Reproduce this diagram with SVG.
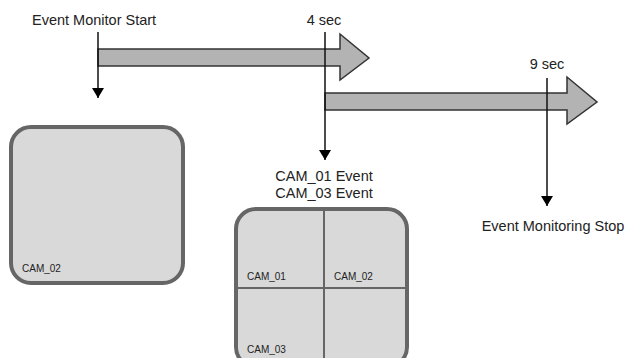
<svg xmlns="http://www.w3.org/2000/svg" width="625" height="358" viewBox="0 0 625 358">
<style>
.t{font-family:"Liberation Sans",Arial,sans-serif;font-size:14.5px;fill:#222}
.s{font-family:"Liberation Sans",Arial,sans-serif;font-size:10px;fill:#222}
.arr{fill:#b3b3b3;stroke:#333;stroke-width:1.5;stroke-linejoin:miter}
.box{fill:#d9d9d9;stroke:#666;stroke-width:4}
.div{stroke:#666;stroke-width:2;fill:none}
.ln{stroke:#111;stroke-width:1.5;fill:none}
</style>
<defs>
<marker id="ah" markerWidth="10" markerHeight="12" refX="10" refY="6" orient="auto" markerUnits="userSpaceOnUse" viewBox="0 0 10 12">
<path d="M0,0 L10,6 L0,12 Z" fill="#000"/>
</marker>
</defs>
<g id="arrow1">
<path class="arr" d="M98,49 L340,49 L340,34 L369,58 L340,80 L340,66 L98,66 Z"/>
</g>
<g id="arrow2">
<path class="arr" d="M325,93 L567,93 L567,77 L597,102 L567,124 L567,110 L325,110 Z"/>
</g>
<g id="box1">
<rect class="box" x="11" y="127" width="172" height="156" rx="20"/>
<text class="s" x="22" y="272">CAM_02</text>
</g>
<g id="box2">
<rect class="box" x="236" y="209" width="171" height="158" rx="20"/>
<line class="div" x1="324" y1="211" x2="324" y2="365"/>
<line class="div" x1="238" y1="288" x2="405" y2="288"/>
<text class="s" x="247" y="280">CAM_01</text>
<text class="s" x="334" y="280">CAM_02</text>
<text class="s" x="247" y="353">CAM_03</text>
</g>
<g id="labels">
<text class="t" x="32" y="25">Event Monitor Start</text>
<text class="t" x="324" y="25" text-anchor="middle">4 sec</text>
<text class="t" x="547" y="69" text-anchor="middle">9 sec</text>
<text class="t" x="324" y="181" text-anchor="middle">CAM_01 Event</text>
<text class="t" x="324" y="198" text-anchor="middle">CAM_03 Event</text>
<text class="t" x="553" y="231" text-anchor="middle">Event Monitoring Stop</text>
</g>
<g id="connectors">
<line class="ln" x1="98" y1="32" x2="98" y2="98" marker-end="url(#ah)"/>
<line class="ln" x1="325" y1="32" x2="325" y2="160" marker-end="url(#ah)"/>
<line class="ln" x1="547" y1="78" x2="547" y2="206" marker-end="url(#ah)"/>
</g>
</svg>
